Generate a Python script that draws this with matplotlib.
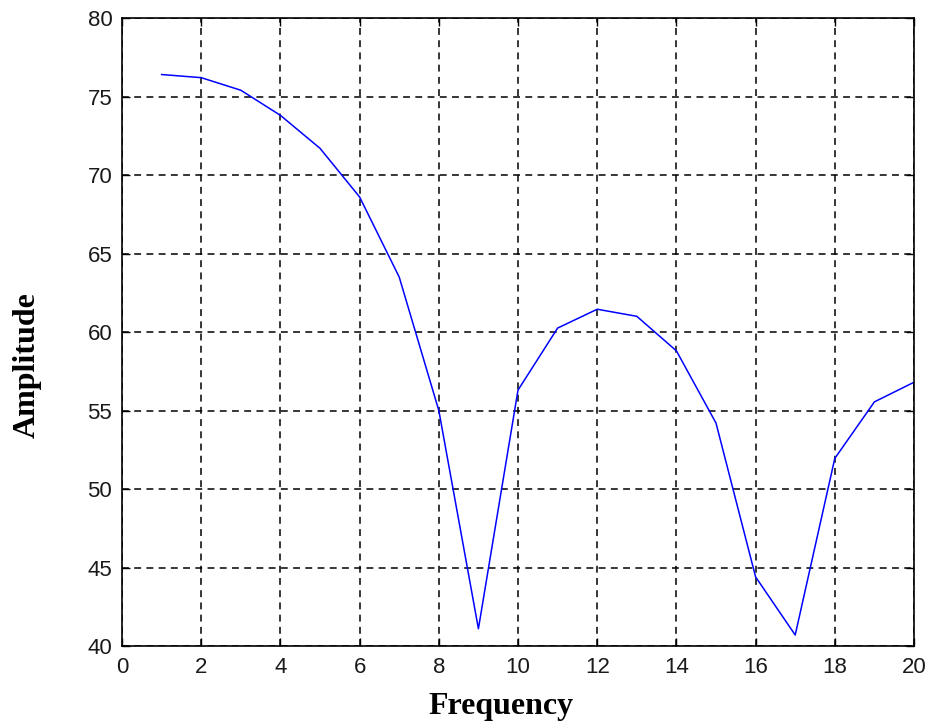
import matplotlib.pyplot as plt

freq = [1, 2, 3, 4, 5, 6, 7, 8, 9, 10, 11, 12, 13, 14, 15, 16, 17, 18, 19, 20]
amplitude = [76.4, 76.2, 75.4, 73.8, 71.7, 68.6, 63.5, 55.0, 41.1, 56.3,
             60.25, 61.45, 61.0, 58.8, 54.2, 44.4, 40.7, 51.95, 55.55, 56.8]

fig = plt.figure(figsize=(9.3, 7.23), dpi=100)
ax = fig.add_axes([0.1312, 0.1065, 0.8516, 0.8686])

ax.plot(freq, amplitude, color='#0000ff', linewidth=1.1)

ax.set_xlim(0, 20)
ax.set_ylim(40, 80)
ax.set_xticks(range(0, 21, 2))
ax.set_yticks(range(40, 81, 5))
ax.grid(True, color='black', linestyle=(0, (4.5, 3.5)), linewidth=1.1)
ax.tick_params(direction='in', top=True, right=True, length=6, width=1,
               labelsize=16, labelcolor='#1a1a1a')
ax.tick_params(axis='y', pad=7)
ax.tick_params(axis='x', pad=8)
for lbl in ax.get_xticklabels() + ax.get_yticklabels():
    lbl.set_family('Liberation Sans')
for s in ax.spines.values():
    s.set_linewidth(1.2)

ax.set_xlabel('Frequency', fontsize=23, fontweight='bold', family='Liberation Serif')
ax.set_ylabel('Amplitude', fontsize=23, fontweight='bold', family='Liberation Serif')
ax.xaxis.set_label_coords(0.478, -0.074)
ax.yaxis.set_label_coords(-0.101, 0.448)

plt.savefig('out.png', dpi=100)
